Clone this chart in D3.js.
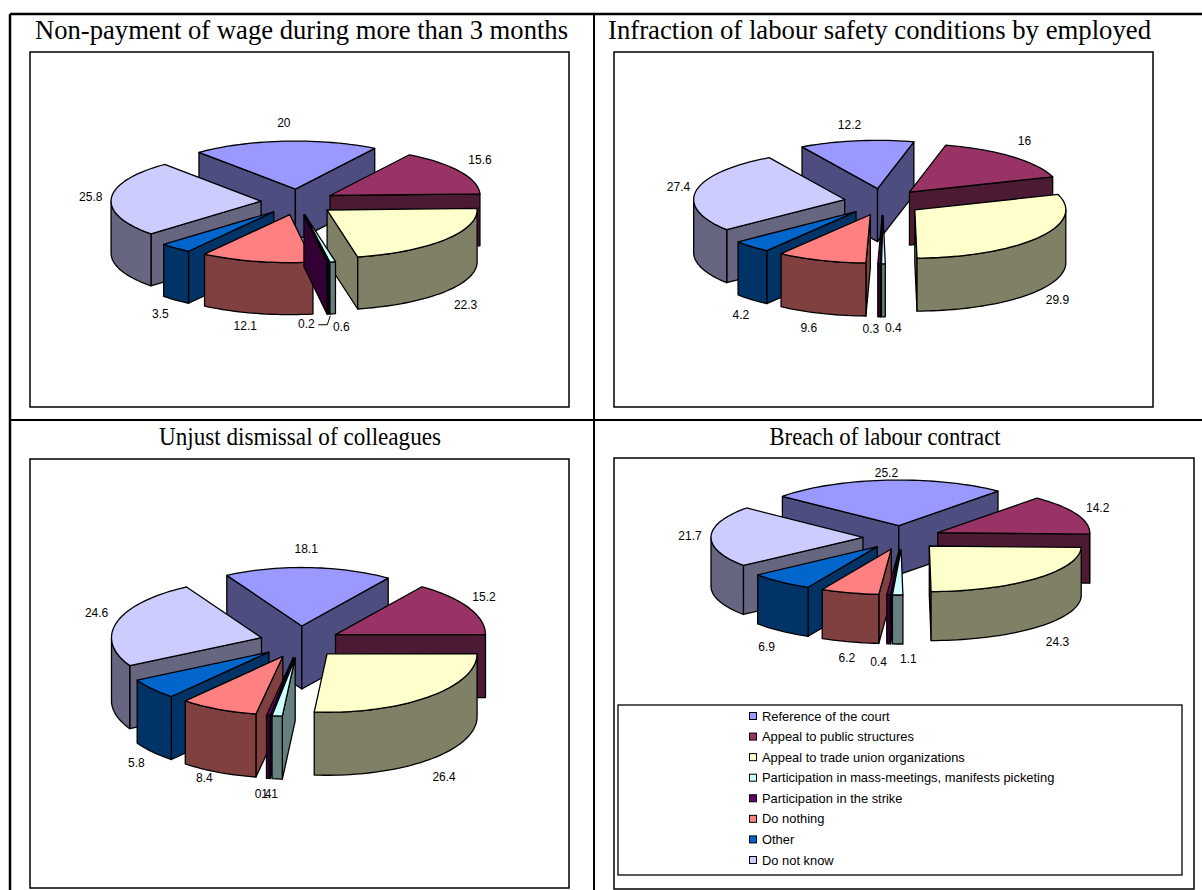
<!DOCTYPE html>
<html><head><meta charset="utf-8">
<style>html,body{margin:0;padding:0;background:#fff}svg{display:block}</style>
<script src="https://cdn.jsdelivr.net/npm/d3@7"></script>
</head><body><div id="chart"></div>
<script>
// ---- data ----
const categories = ["Reference of the court","Appeal to public structures","Appeal to trade union organizations","Participation in mass-meetings, manifests picketing","Participation in the strike","Do nothing","Other","Do not know"];
const titles = ["Non-payment of wage during more than 3 months","Infraction of labour safety conditions by employed","Unjust dismissal of colleagues","Breach of labour contract"];
const wageValues     = [20,15.6,22.3,0.6,0.2,12.1,3.5,25.8];
const safetyValues   = [12.2,16,29.9,0.4,0.3,9.6,4.2,27.4];
const dismissValues  = [18.1,15.2,26.4,1.1,0.4,8.4,5.8,24.6];
const contractValues = [25.2,14.2,24.3,1.1,0.4,6.2,6.9,21.7];
const seriesValues = [wageValues,safetyValues,dismissValues,contractValues];
// ---- style & layout ----
const colors = ["#9999FF","#993366","#FFFFCC","#CCFFFF","#660066","#FF8080","#0066CC","#CCCCFF"];
const panels = [
  {frame:[30,52,569,407],  title:[301.5,39,26.6,533], c:[298,202],  E:37,R:150,sE:.35, s:.32,D:52,start:-40,
   nudge:[[0,-9],[8,-7],[9.5,27],[6,5],[-24,1],[-8,5],[-6,19],[-6.6,-.6]], leader:4},
  {frame:[614,52,1153,407],title:[879.5,39,26.6,543], c:[883,202],  E:39,R:151,sE:.345,s:.32,D:53,start:-30,
   nudge:[[-5,-8],[3,-9],[8,26],[10,2],[-8,3],[-8,9],[-1,24],[-4,-2]]},
  {frame:[30,459,569,888], title:[300,445,25.5,282],c:[300,642],  E:40,R:150,sE:.4,s:.39,D:63,start:-30,
   nudge:[[-3,-12],[3,-8],[6,28],[-6,8],[-3,9],[-8,5],[-5,30],[-7,-7]]},
  {frame:[614,458,1194,889],title:[885,445,25.5,231],c:[902,537.5],E:39,R:152,sE:.305,s:.30,D:49,start:-50,
   nudge:[[1,-2],[8,-5],[12,25],[11,10],[-9,13],[1,13],[-5,23],[-7,-1]]}
];
const rad = Math.PI/180;
const svg = d3.select("#chart").append("svg").attr("width",1202).attr("height",890);
svg.append("rect").attr("width",1202).attr("height",890).attr("fill","#fff");

// table grid
const grid = svg.append("g").attr("stroke","#000");
[[10,14,1202,14,2.5],[10,14,10,890,2.5],[594,14,594,890,2],[10,420,1202,420,2]].forEach(l=>
  grid.append("line").attr("x1",l[0]).attr("y1",l[1]).attr("x2",l[2]).attr("y2",l[3]).attr("stroke-width",l[4]));

const line = d3.line();
const shade = c => d3.interpolateRgb(c,"#000")(0.5);

panels.forEach((p,pi)=>{
  const g = svg.append("g");
  const f = p.frame;
  g.append("rect").attr("x",f[0]).attr("y",f[1]).attr("width",f[2]-f[0]).attr("height",f[3]-f[1])
    .attr("fill","#fff").attr("stroke","#000").attr("stroke-width",1.5);
  g.append("text").attr("x",p.title[0]).attr("y",p.title[1]).attr("text-anchor","middle")
    .attr("font-family","'Liberation Serif','Times New Roman',serif").attr("font-size",p.title[2])
    .attr("textLength",p.title[3]).attr("lengthAdjust","spacingAndGlyphs").attr("fill","#000").text(titles[pi]);

  const pie = d3.pie().sort(null).startAngle(p.start*rad).endAngle((p.start+360)*rad);
  const arcs = pie(seriesValues[pi]).map((a,i)=>({...a,i,mid:(a.startAngle+a.endAngle)/2}));
  const ux = t=>Math.sin(t), uyE = t=>-p.sE*Math.cos(t), uy = t=>-p.s*Math.cos(t);
  arcs.forEach(a=>{
    a.tx = p.c[0]+p.E*ux(a.mid);
    a.ty = p.c[1]+p.E*uyE(a.mid);
  });
  const pt = (a,t,dz=0)=>[a.tx+p.R*ux(t), a.ty+p.R*uy(t)+dz];
  const sweep = (a,t0,t1,dz=0)=>{
    const n = Math.max(2,Math.ceil(Math.abs(t1-t0)/(2*rad)));
    return d3.range(n+1).map(k=>pt(a,t0+(t1-t0)*k/n,dz));
  };
  const attrs = (sel,fill)=>sel.attr("fill",fill).attr("stroke","#000").attr("stroke-width",1.3).attr("stroke-linejoin","round");

  const order = arcs.slice().sort((a,b)=>d3.descending(Math.cos(a.mid),Math.cos(b.mid)));
  order.forEach(a=>{
    const c = colors[a.i], dark = shade(c), tip=[a.tx,a.ty], down=[a.tx,a.ty+p.D];
    // radial walls
    if(Math.sin(a.startAngle)<0){
      const e=pt(a,a.startAngle), e2=pt(a,a.startAngle,p.D);
      attrs(g.append("path"),dark).attr("d",line([tip,e,e2,down])+"Z");
    }
    if(Math.sin(a.endAngle)>0){
      const e=pt(a,a.endAngle), e2=pt(a,a.endAngle,p.D);
      attrs(g.append("path"),dark).attr("d",line([tip,e,e2,down])+"Z");
    }
    // outer curved wall (front half only)
    const lo=Math.max(a.startAngle,90*rad), hi=Math.min(a.endAngle,270*rad);
    if(hi>lo){
      const top=sweep(a,lo,hi), bot=sweep(a,hi,lo,p.D);
      attrs(g.append("path"),dark).attr("d",line(top.concat(bot))+"Z");
    }
    // top face
    attrs(g.append("path"),c).attr("d",line([tip].concat(sweep(a,a.startAngle,a.endAngle)))+"Z");
  });

  // value labels
  arcs.forEach(a=>{
    const r=p.E+p.R+14, n=p.nudge[a.i];
    const x=p.c[0]+r*ux(a.mid)+n[0];
    const y=p.c[1]+r*uyE(a.mid)+p.D*Math.max(0,-Math.cos(a.mid))+n[1];
    g.append("text").attr("x",x).attr("y",y).attr("dy","0.35em").attr("text-anchor","middle")
      .attr("font-family","'Liberation Sans',Arial,sans-serif").attr("font-size",12).attr("fill","#000")
      .text(a.value);
    if(p.leader===a.i){
      g.append("path").attr("d",line([[x+12,y+1],[x+21,y+1],[x+24,y-8]])).attr("fill","none").attr("stroke","#000").attr("stroke-width",1);
    }
  });
});

// legend
const leg = svg.append("g");
leg.append("rect").attr("x",618).attr("y",705).attr("width",564).attr("height",170).attr("fill","#fff").attr("stroke","#000").attr("stroke-width",1.3);
const legendY = d3.scalePoint().domain(d3.range(categories.length)).range([716,860]);
categories.forEach((t,i)=>{
  leg.append("rect").attr("x",749.5).attr("y",legendY(i)-3.5).attr("width",7).attr("height",7).attr("fill",colors[i]).attr("stroke","#000").attr("stroke-width",1);
  leg.append("text").attr("x",762).attr("y",legendY(i)).attr("dy","0.35em").attr("font-family","'Liberation Sans',Arial,sans-serif").attr("font-size",12.9).attr("fill","#000").text(t);
});
</script></body></html>
